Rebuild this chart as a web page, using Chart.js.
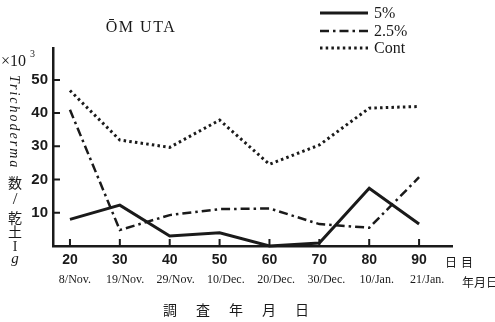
<!DOCTYPE html>
<html>
<head>
<meta charset="utf-8">
<script src="https://cdn.jsdelivr.net/npm/chart.js@4"></script>
<style>
  body { margin: 0; background: #fff; }
  canvas { display: block; }
</style>
</head>
<body>
<canvas id="grafica" width="495" height="322"></canvas>
<script>
// datos
const dias = [20, 30, 40, 50, 60, 70, 80, 90];
const fechas = ['8/Nov.', '19/Nov.', '29/Nov.', '10/Dec.', '20/Dec.', '30/Dec.', '10/Jan.', '21/Jan.'];
const yTicks = [10, 20, 30, 40, 50];
const series = ['5%', '2.5%', 'Cont'];
const p5 = [8, 12.3, 3, 4, 0, 0.9, 17.4, 6.6];
const p25 = [41, 4.8, 9.3, 11.1, 11.3, 6.6, 5.5, 20.7];
const cont = [46.8, 31.9, 29.7, 37.9, 24.6, 30.4, 41.5, 42];

const negro = '#1a1a1a';
const serif = '"Liberation Serif", "DejaVu Serif", serif';
const narrow = '"Liberation Sans Narrow", "Liberation Sans", sans-serif';
const cjk = '"Noto Sans CJK JP", sans-serif';

function puntos(vals) {
  return dias.map((d, i) => ({ x: d, y: vals[i] }));
}

// textos extra, leyenda y marcas de los ejes
const extras = {
  id: 'extras',
  afterDraw(chart) {
    const ctx = chart.ctx;
    const a = chart.chartArea;
    const sx = chart.scales.x, sy = chart.scales.y;
    ctx.save();
    ctx.strokeStyle = negro;
    ctx.fillStyle = negro;

    // marcas hacia dentro
    ctx.lineWidth = 2;
    ctx.beginPath();
    yTicks.forEach(v => {
      const y = sy.getPixelForValue(v);
      ctx.moveTo(a.left, y); ctx.lineTo(a.left + 7, y);
    });
    dias.forEach(v => {
      const x = sx.getPixelForValue(v);
      ctx.moveTo(x, a.bottom); ctx.lineTo(x, a.bottom - 7);
    });
    ctx.stroke();

    // titulo
    ctx.textBaseline = 'middle';
    ctx.textAlign = 'center';
    ctx.font = '16px ' + serif;
    ctx.letterSpacing = '1.5px';
    ctx.fillText('ŌM UTA', 141, 28);
    ctx.letterSpacing = '0px';

    // leyenda
    ctx.textAlign = 'left';
    const ys = [13, 31, 48];
    chart.data.datasets.forEach((ds, i) => {
      ctx.save();
      ctx.lineWidth = ds.borderWidth;
      ctx.setLineDash(ds.borderDash || []);
      ctx.beginPath();
      ctx.moveTo(320, ys[i]); ctx.lineTo(368, ys[i]);
      ctx.stroke();
      ctx.restore();
      ctx.font = '16px ' + serif;
      ctx.fillText(ds.label, 374, ys[i] + 1);
    });

    // x10^3
    ctx.font = '16px ' + serif;
    ctx.fillText('×10', 1, 62);
    ctx.font = '10px ' + serif;
    ctx.fillText('3', 30, 54);

    // etiqueta del eje y
    ctx.save();
    ctx.translate(9, 75);
    ctx.rotate(Math.PI / 2);
    ctx.font = 'italic 14px ' + serif;
    ctx.letterSpacing = '2px';
    ctx.textBaseline = 'middle';
    ctx.fillText('Trichoderma', 0, -5);
    ctx.restore();
    ctx.textAlign = 'center';
    ctx.font = '14px ' + cjk;
    ctx.fillText('数', 15, 183);
    ctx.font = '17px ' + serif;
    ctx.fillText('/', 15, 200);
    ctx.font = '14px ' + cjk;
    ctx.fillText('乾', 15, 218);
    ctx.fillText('土', 15, 232);
    ctx.font = '14px ' + serif;
    ctx.fillText('I', 15, 247);
    ctx.font = 'italic 15px ' + serif;
    ctx.fillText('g', 15, 259);

    // unidades del eje x
    ctx.textAlign = 'left';
    ctx.font = '12px ' + cjk;
    ctx.letterSpacing = '4px';
    ctx.fillText('日目', 445, 262);
    ctx.letterSpacing = '0px';
    ctx.fillText('年月日', 462, 282);

    // titulo del eje x
    ctx.font = '14px ' + cjk;
    ctx.letterSpacing = '19px';
    ctx.fillText('調査年月日', 163, 310);
    ctx.restore();
  }
};

new Chart(document.getElementById('grafica'), {
  type: 'line',
  data: {
    datasets: [
      { label: series[0], data: puntos(p5), borderColor: negro, borderWidth: 3, clip: false },
      { label: series[1], data: puntos(p25), borderColor: negro, borderWidth: 2.5, borderDash: [9, 4, 2.5, 4] },
      { label: series[2], data: puntos(cont), borderColor: negro, borderWidth: 3, borderDash: [2.5, 3.2] }
    ]
  },
  options: {
    responsive: false,
    animation: false,
    devicePixelRatio: 1,
    elements: { point: { radius: 0 }, line: { tension: 0, fill: false } },
    layout: { padding: { top: 48, right: 43, left: 0, bottom: 0 } },
    plugins: { legend: { display: false }, tooltip: { enabled: false } },
    scales: {
      x: {
        type: 'linear', position: 'bottom', weight: 0,
        min: 16.6, max: 96.6,
        afterBuildTicks: s => { s.ticks = dias.map(v => ({ value: v })); },
        afterFit: s => { s.height = 24; },
        grid: { display: false, drawTicks: false },
        border: { color: negro, width: 2.5 },
        ticks: { color: negro, padding: 6, font: { family: narrow, size: 14, weight: 'bold' } }
      },
      x2: {
        type: 'linear', position: 'bottom', weight: 1,
        min: 15.64, max: 94.96,
        afterBuildTicks: s => { s.ticks = dias.map(v => ({ value: v })); },
        afterFit: s => { s.height = 52; },
        grid: { display: false, drawTicks: false },
        border: { display: false },
        ticks: {
          color: negro, padding: 3,
          font: { family: serif, size: 12 },
          callback: v => fechas[dias.indexOf(v)]
        }
      },
      y: {
        min: 0, max: 59.6,
        afterBuildTicks: s => { s.ticks = yTicks.map(v => ({ value: v })); },
        afterFit: s => { s.width = 53; },
        grid: { display: false, drawTicks: false },
        border: { color: negro, width: 2.5 },
        ticks: { color: negro, padding: 5, font: { family: narrow, size: 15, weight: 'bold' } }
      }
    }
  },
  plugins: [extras]
});
</script>
</body>
</html>
